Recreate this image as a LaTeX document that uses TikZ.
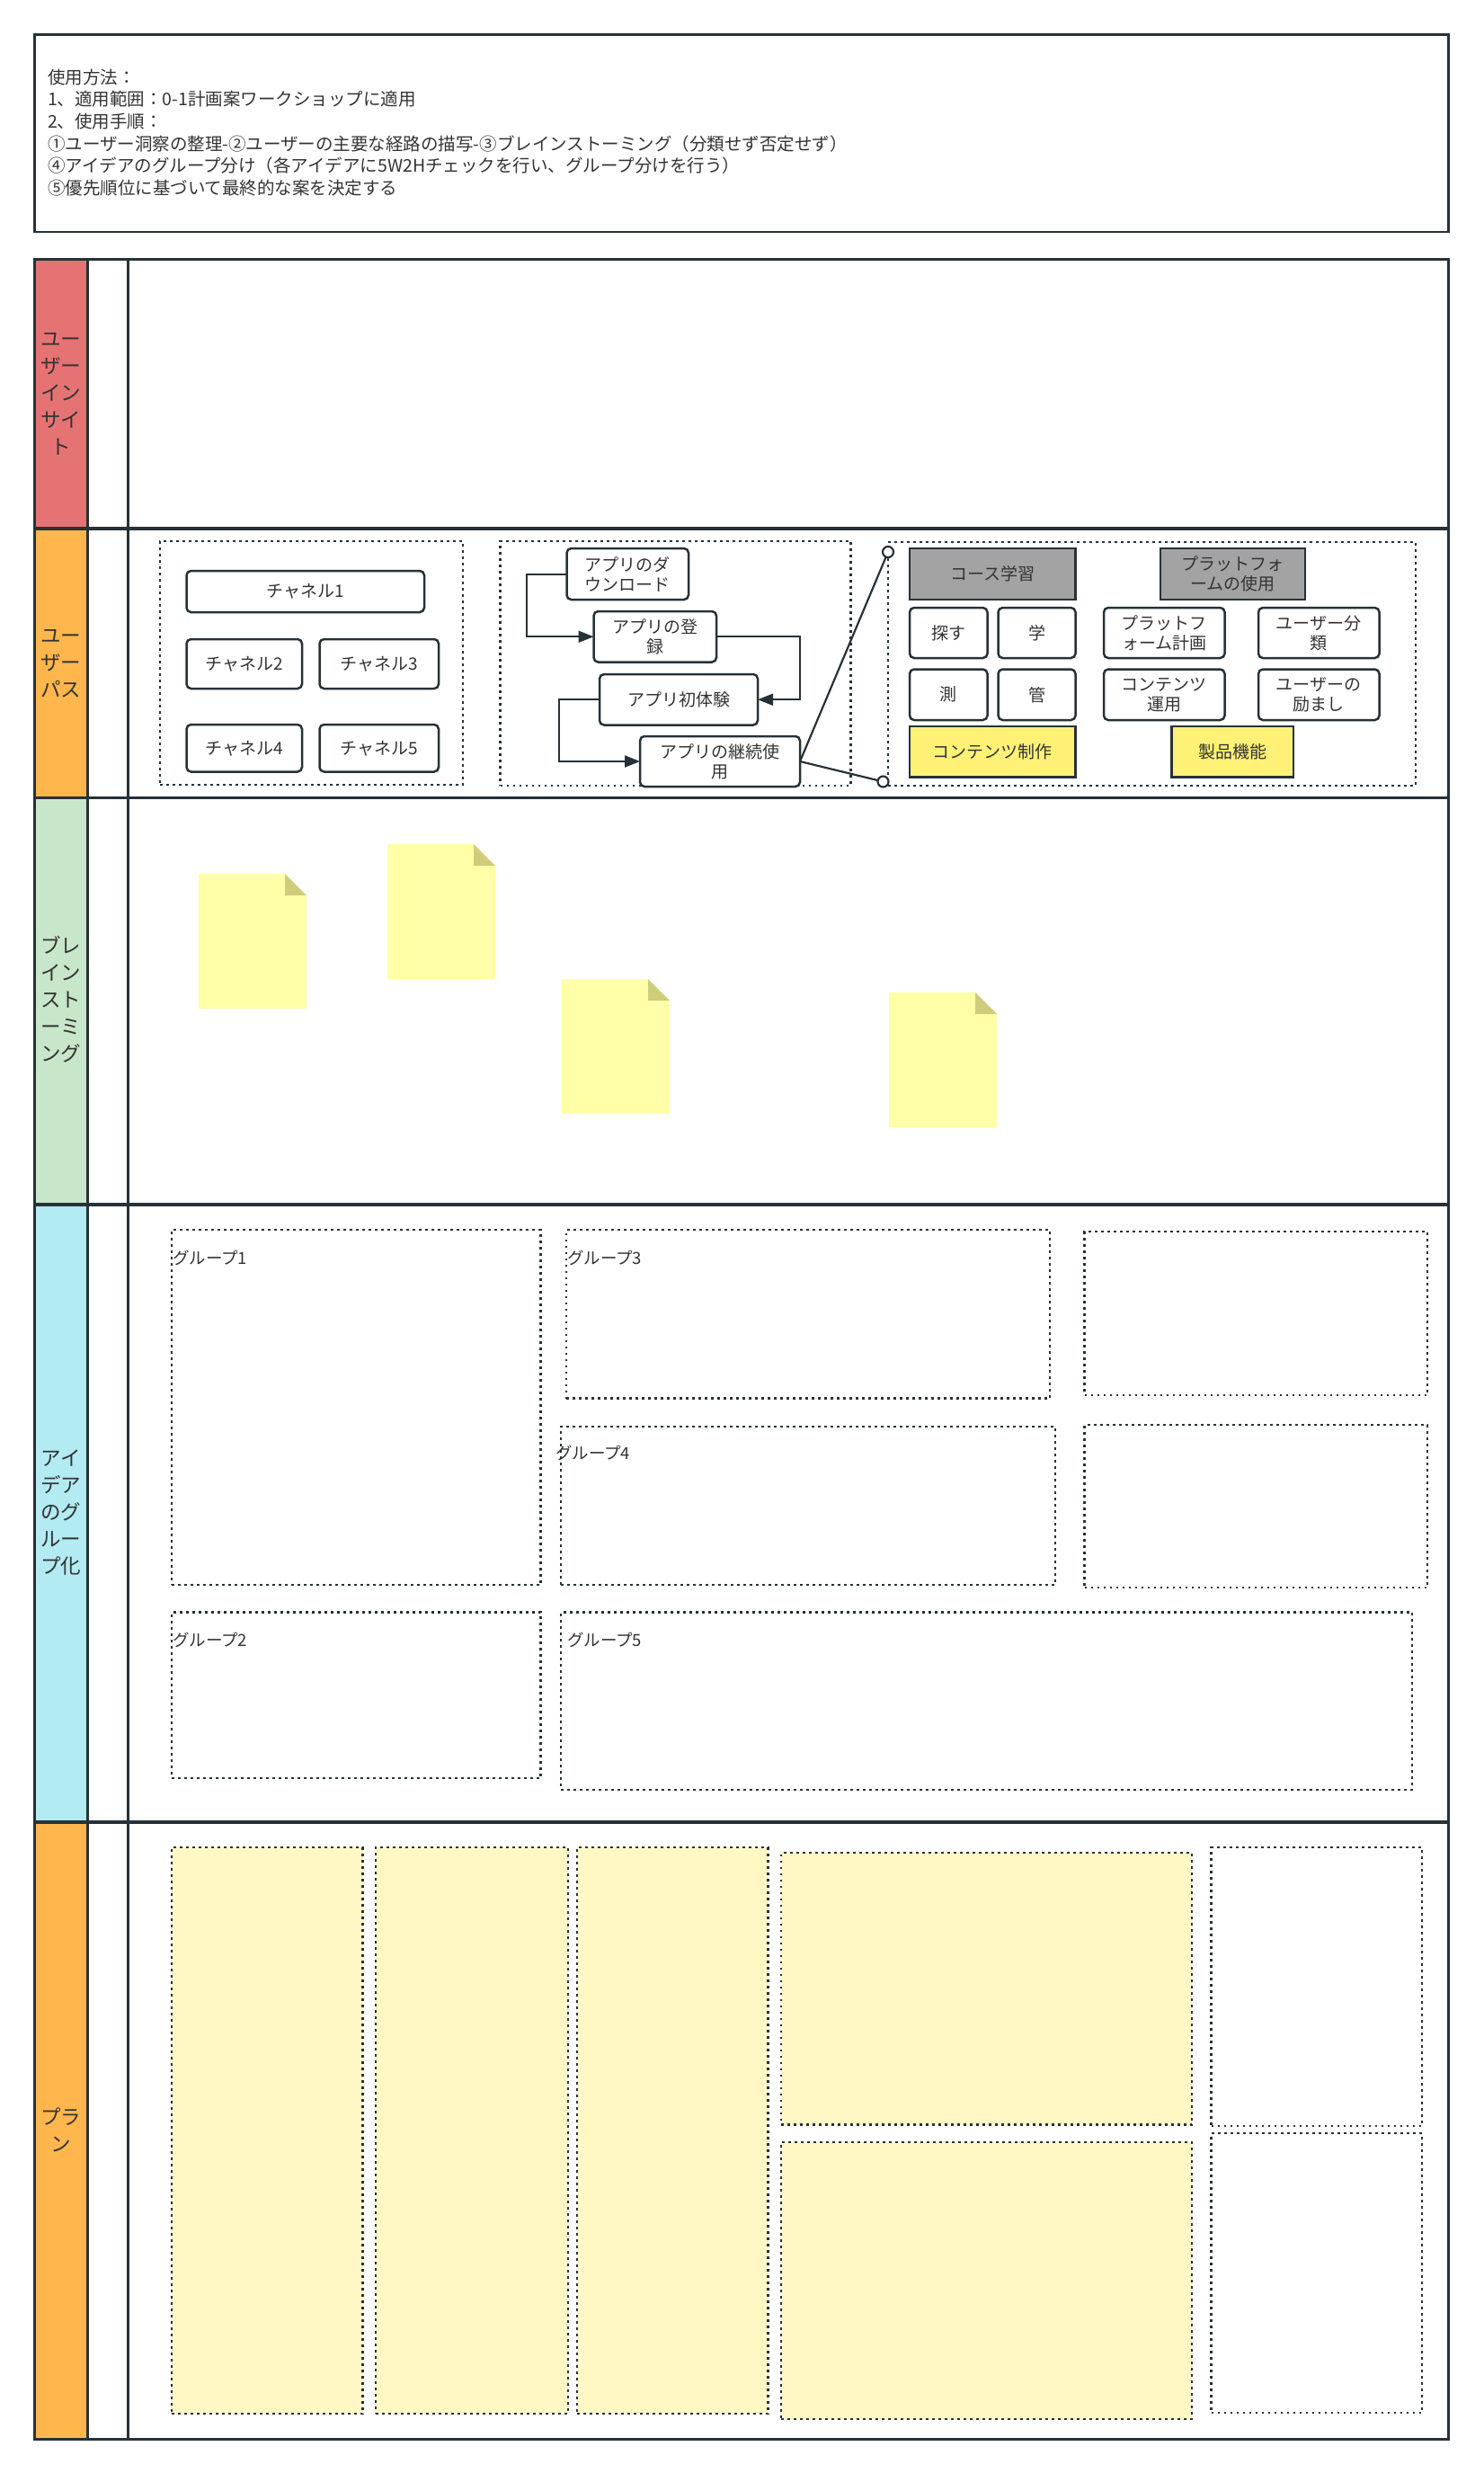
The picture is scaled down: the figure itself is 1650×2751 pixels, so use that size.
\documentclass[tikz,border=0pt]{standalone}
\usepackage{fontspec}
\setmainfont{Noto Sans CJK JP}
\usetikzlibrary{arrows.meta}
\definecolor{ln}{HTML}{263238}
\definecolor{txt}{HTML}{333333}
\definecolor{lred}{HTML}{E57373}
\definecolor{lorange}{HTML}{FFB74D}
\definecolor{lgreen}{HTML}{C8E6C9}
\definecolor{lcyan}{HTML}{B2EBF2}
\definecolor{gbox}{HTML}{A3A3A3}
\definecolor{ybox}{HTML}{FFF176}
\definecolor{notey}{HTML}{FFFFA8}
\definecolor{notef}{HTML}{CFCC7C}
\definecolor{plany}{HTML}{FFF8C4}
\newcommand\BX[7]{\node[#1, minimum width={(#5)-(#3)}, minimum height={(#6)-(#4)}] (#2) at ({((#3)+(#5))/2},{((#4)+(#6))/2}) {#7};}
\newcommand\NOTE[2]{%
  \fill[notey] ({#1},{#2}) -- ++(96,0) -- ++(24,24) -- ++(0,126) -- ++(-120,0) -- cycle;
  \fill[notef] ({#1+96},{#2}) -- ++(24,24) -- ++(-24,0) -- cycle;}
\begin{document}
\begin{tikzpicture}[x=1pt,y=-1pt,
  every node/.style={inner sep=0pt, outer sep=0pt, text=txt},
  box/.style={draw=ln, line width=2.5pt, rounded corners=5pt, fill=white, align=center, font=\fontsize{19}{22}\selectfont},
  sqbox/.style={draw=ln, line width=2.5pt, align=center, font=\fontsize{19}{22}\selectfont},
  dotbox/.style={draw=ln, line width=2.6pt, dash pattern=on 2.6pt off 4.4pt},
  lanelbl/.style={align=center, font=\fontsize{22.5}{30}\selectfont},
  grplbl/.style={anchor=west, font=\fontsize{18.5}{22}\selectfont},
  flow/.style={draw=ln, line width=2pt, -{Triangle[length=17pt,width=13pt]}},
  callout/.style={draw=ln, line width=2.2pt},
  dotc/.style={circle, draw=ln, line width=2.2pt, fill=white, minimum size=12pt}]
\useasboundingbox (0,0) rectangle (1650,2751);

% usage box
\BX{draw=ln, line width=2.5pt}{usage}{38.5}{38.5}{1611.5}{258}{}
\node[anchor=west, align=left, font=\fontsize{19.5}{24.6}\selectfont] (usagetxt) at (53,147.5) {使用方法：\\
1、適用範囲：0-1計画案ワークショップに適用\\
2、使用手順：\\
①ユーザー洞察の整理-②ユーザーの主要な経路の描写-③ブレインストーミング（分類せず否定せず）\\
④アイデアのグループ分け（各アイデアに5W2Hチェックを行い、グループ分けを行う）\\
⑤優先順位に基づいて最終的な案を決定する};

% swimlanes
\fill[lred] (38,288) rectangle (97.5,588);
\fill[lorange] (38,588) rectangle (97.5,887.5);
\fill[lgreen] (38,887.5) rectangle (97.5,1340);
\fill[lcyan] (38,1340) rectangle (97.5,2027);
\fill[lorange] (38,2027) rectangle (97.5,2713);
\draw[ln, line width=2.5pt] (97.5,288) -- (97.5,2713);
\draw[ln, line width=2.5pt] (142.5,288) -- (142.5,2713);
\foreach \yy in {588,887.5,1340,2027} {\draw[ln, line width=3.5pt] (38,\yy) -- (1611,\yy);}
\draw[ln, line width=3pt] (38,288) rectangle (1611,2713);

\node[lanelbl] (lane1) at (67.75,438) {ユー\\ザー\\イン\\サイ\\ト};
\node[lanelbl] (lane2) at (67.75,738) {ユー\\ザー\\パス};
\node[lanelbl] (lane3) at (67.75,1112) {ブレ\\イン\\スト\\ーミ\\ング};
\node[lanelbl] (lane4) at (67.75,1683) {アイ\\デア\\のグ\\ルー\\プ化};
\node[lanelbl] (lane5) at (67.75,2369) {プラ\\ン};

% user path lane
\BX{dotbox}{chgrp}{178}{602}{515}{873}{}
\BX{box}{ch1}{207.5}{635}{472}{681}{チャネル1}
\BX{box}{ch2}{207.5}{711}{336}{766}{チャネル2}
\BX{box}{ch3}{355.5}{711}{488}{766}{チャネル3}
\BX{box}{ch4}{207.5}{806}{336}{858.5}{チャネル4}
\BX{box}{ch5}{355.5}{806}{488}{858.5}{チャネル5}

\BX{dotbox}{appgrp}{556.5}{602}{946.5}{874}{}
\BX{box}{dl}{630.5}{610}{766}{667}{アプリのダ\\ウンロード}
\BX{box}{reg}{660.5}{680}{797}{736.5}{アプリの登\\録}
\BX{box}{first}{667}{750}{843}{806.5}{アプリ初体験}
\BX{box}{cont}{712}{819}{890}{875}{アプリの継続使\\用}
\draw[flow] (dl.west) -- ++(-45,0) |- (reg.west);
\draw[flow] (reg.east) -- ++(93,0) |- (first.east);
\draw[flow] (first.west) -- ++(-45,0) |- (cont.west);

\BX{dotbox}{detail}{988}{603}{1575}{874}{}
\BX{sqbox, fill=gbox}{course}{1012}{610}{1196.5}{667}{コース学習}
\BX{sqbox, fill=gbox}{platuse}{1291}{610}{1452}{667}{プラットフォ\\ームの使用}
\BX{box}{sagasu}{1012}{676}{1098.5}{732}{探す}
\BX{box}{manabu}{1110.5}{676}{1196.5}{732}{学}
\BX{box}{platplan}{1228}{676}{1362.5}{732}{プラットフ\\ォーム計画}
\BX{box}{ucls}{1400}{676}{1534.5}{732}{ユーザー分\\類}
\BX{box}{soku}{1012}{744.5}{1098.5}{801}{測}
\BX{box}{kan}{1110.5}{744.5}{1196.5}{801}{管}
\BX{box}{conop}{1228}{744.5}{1362.5}{801}{コンテンツ\\運用}
\BX{box}{uenc}{1400}{744.5}{1534.5}{801}{ユーザーの\\励まし}
\BX{sqbox, fill=ybox}{conprod}{1012}{808}{1196.5}{864.5}{コンテンツ制作}
\BX{sqbox, fill=ybox}{prodfn}{1303.5}{808}{1439}{864.5}{製品機能}

\node[dotc] (cA) at (988,614) {};
\node[dotc] (cB) at (982.5,869.5) {};
\draw[callout] (cont.east) -- (cA);
\draw[callout] (cont.east) -- (cB);

% brainstorming notes
\NOTE{221}{972}
\NOTE{431}{939}
\NOTE{625}{1089}
\NOTE{989}{1104}

% grouping lane
\BX{dotbox}{g1}{191}{1368}{601.5}{1763}{}
\BX{dotbox}{g3}{630}{1368}{1168}{1555.5}{}
\BX{dotbox}{gtr}{1206.5}{1370}{1588}{1552}{}
\BX{dotbox}{g4}{624}{1587}{1174}{1763}{}
\BX{dotbox}{gmr}{1206.5}{1585}{1588}{1766}{}
\BX{dotbox}{g2}{191}{1793.5}{601.5}{1978}{}
\BX{dotbox}{g5}{624}{1793.5}{1571}{1991}{}
\node[grplbl] (g1l) at (192,1399) {グループ1};
\node[grplbl] (g3l) at (631,1399) {グループ3};
\node[grplbl] (g4l) at (618,1616) {グループ4};
\node[grplbl] (g2l) at (192,1824.5) {グループ2};
\node[grplbl] (g5l) at (631,1824.5) {グループ5};

% plan lane
\BX{dotbox, fill=plany}{p1}{191}{2055}{403.5}{2685}{}
\BX{dotbox, fill=plany}{p2}{418}{2055}{632}{2685}{}
\BX{dotbox, fill=plany}{p3}{642}{2055}{854.5}{2685}{}
\BX{dotbox, fill=plany}{p4}{869}{2061}{1326}{2363.5}{}
\BX{dotbox, fill=plany}{p5}{869}{2383}{1326}{2691}{}
\BX{dotbox}{p6}{1347.5}{2055}{1582}{2365}{}
\BX{dotbox}{p7}{1347.5}{2373}{1582}{2684}{}
\end{tikzpicture}
\end{document}
